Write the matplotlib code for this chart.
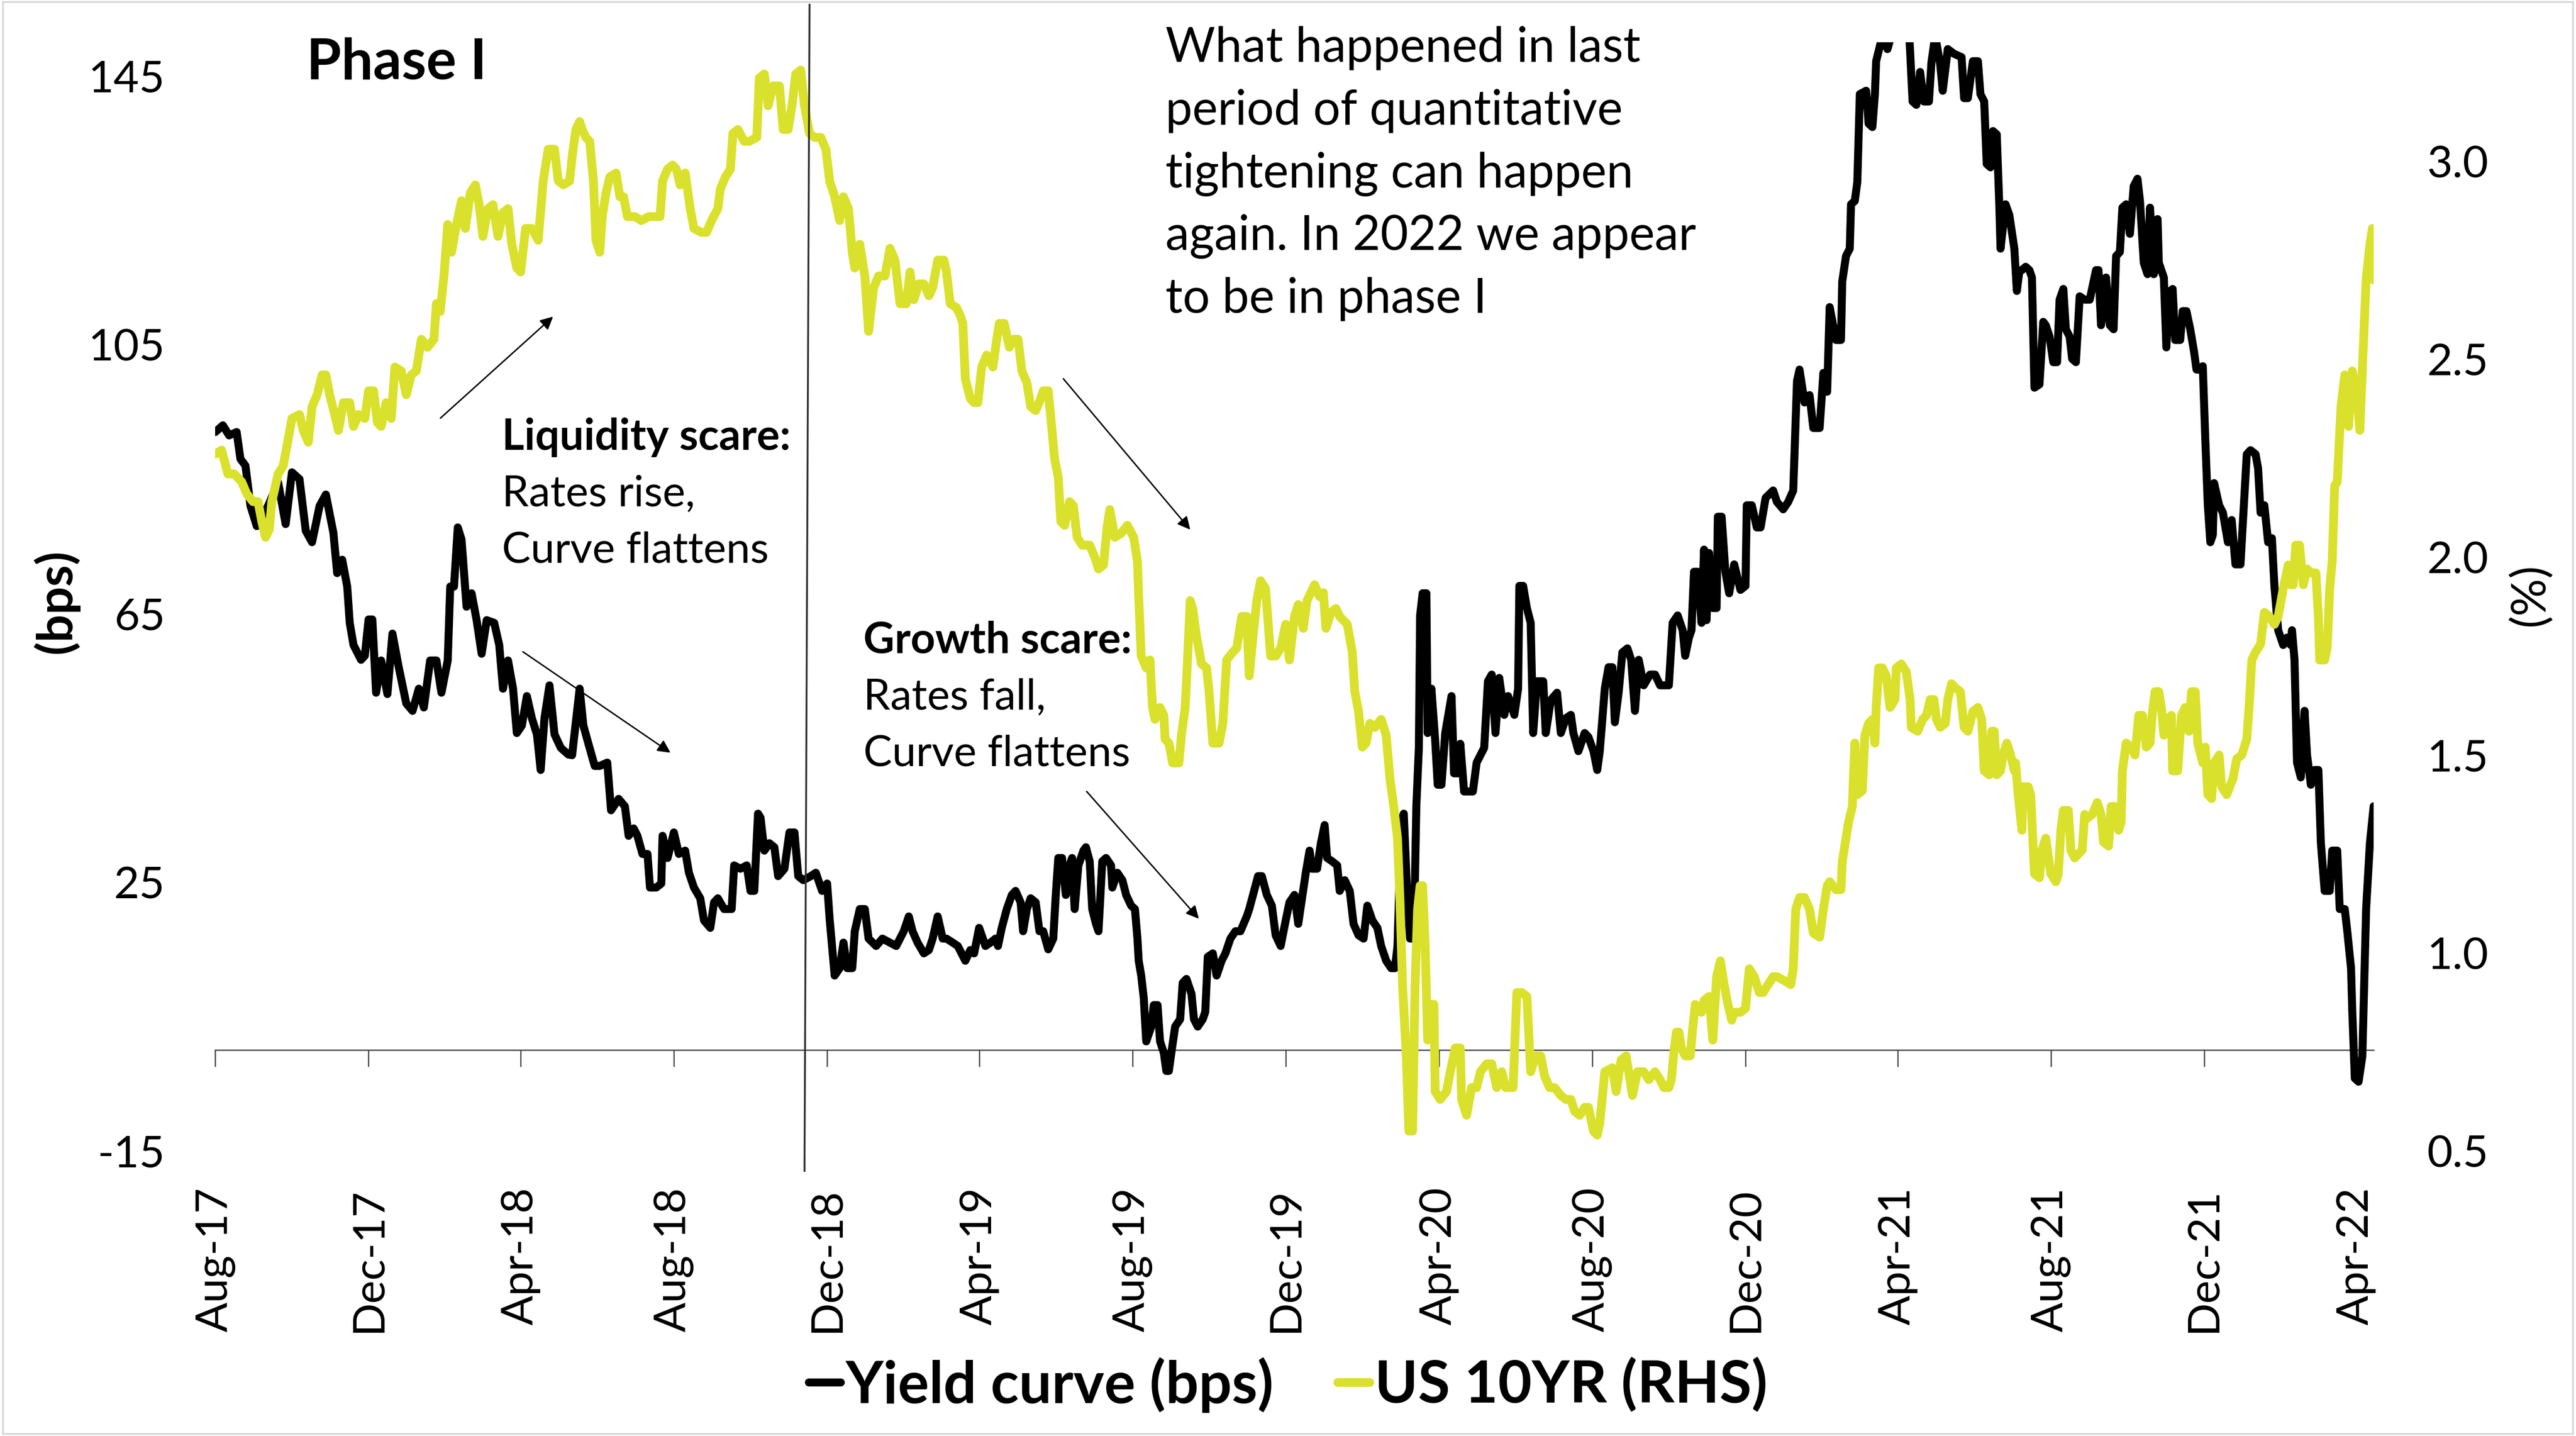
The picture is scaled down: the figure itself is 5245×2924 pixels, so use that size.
import numpy as np
import pandas as pd
import matplotlib
matplotlib.use("Agg")
import matplotlib.pyplot as plt
import matplotlib.dates as mdates
import matplotlib.transforms as mtransforms
from matplotlib.ticker import FormatStrFormatter
from matplotlib.patches import Rectangle

plt.rcParams['font.family'] = ['Lato', 'DejaVu Sans']
plt.rcParams['axes.unicode_minus'] = False

# ---------------------------------------------------------------------------
# Data: (days since 1 Aug 2017, value)
# ---------------------------------------------------------------------------
START = pd.Timestamp('2017-08-01')
LAST_DAY = 1718

# US 10y-2y yield curve, bps (left axis)
curve_pts = [
    (0, 92.0), (6, 93.0), (11, 91.5), (17, 92.0), (20, 88.0), (24, 87.0), (28, 81.0), (33, 78.0),
    (42, 81.0), (50, 84.5), (56, 78.3), (61, 86.0), (67, 85.0), (72, 77.3), (77, 75.6), (83, 81.0),
    (88, 82.7), (94, 77.0), (97, 71.0), (101, 73.0), (105, 69.0), (107, 63.6), (110, 60.3), (116, 58.1),
    (119, 58.7), (122, 64.1), (125, 64.1), (128, 53.2), (132, 58.0), (137, 53.0), (141, 62.0), (146, 57.0),
    (152, 51.6), (157, 50.5), (162, 53.8), (166, 51.0), (171, 58.0), (176, 58.0), (180, 53.2), (185, 58.0),
    (187, 69.0), (190, 69.0), (193, 77.8), (196, 76.0), (200, 66.0), (204, 68.0), (208, 64.0), (212, 59.0),
    (216, 64.0), (222, 63.6), (226, 60.3), (229, 53.8), (233, 58.0), (237, 53.8), (240, 47.2), (244, 48.3),
    (248, 52.7), (252, 49.4), (256, 47.0), (259, 41.7), (262, 49.4), (266, 54.3), (270, 47.0), (275, 45.0),
    (281, 44.0),
    (284, 43.9), (290, 53.8), (293, 48.3), (297, 45.6), (302, 42.3), (306, 42.3), (312, 42.8), (315, 35.7),
    (321, 37.4), (326, 36.3), (329, 31.9), (333, 33.0), (336, 31.9), (340, 29.2), (344, 29.2), (346, 24.2),
    (351, 24.2), (355, 24.8), (356, 31.9), (360, 28.6), (365, 32.4), (369, 29.2), (374, 29.7), (377, 26.4),
    (381, 24.2), (386, 22.6), (389, 19.3), (394, 18.2), (397, 22.0), (400, 22.6), (405, 21.0), (411, 21.0),
    (413, 27.5), (418, 27.0), (423, 27.5), (426, 23.7), (429, 23.7), (432, 35.2), (434, 34.6), (437, 29.7),
    (441, 30.8), (445, 30.2), (448, 25.9), (453, 27.0), (457, 32.4), (461, 32.4), (464, 25.9), (468, 25.3),
    (474, 25.9), (478, 26.4), (483, 23.7), (487, 24.8), (489, 19.5), (493, 11.1), (497, 12.2), (500, 16.0),
    (503, 12.2), (507, 12.2), (509, 17.7), (513, 21.0), (517, 21.0), (520, 16.6), (526, 15.5), (531, 16.6),
    (537, 16.0), (542, 15.5), (548, 17.7), (552, 19.9), (555, 17.7), (559, 16.0), (564, 14.4), (568, 14.9),
    (571, 16.6), (575, 19.9), (579, 16.6), (582, 16.6), (587, 16.0), (591, 15.5), (594, 14.4), (597, 13.3),
    (601, 14.9), (604, 14.4), (608, 18.2), (613, 15.5), (617, 16.0), (621, 16.6), (623, 15.5), (626, 18.2),
    (630, 21.0), (634, 23.1), (637, 23.7), (641, 22.0), (643, 17.7), (646, 21.0), (649, 22.6), (653, 22.0),
    (656, 17.7), (659, 17.7), (663, 15.0), (667, 16.6), (669, 23.1), (671, 28.6), (674, 28.6), (677, 23.1),
    (680, 27.5), (682, 28.6), (684, 21.0), (687, 27.5), (691, 29.7), (693, 30.2), (696, 28.1), (698, 21.0),
    (701, 18.8), (703, 17.7), (706, 28.1), (709, 28.6), (713, 27.5), (714, 24.2), (718, 26.4), (722, 25.3),
    (725, 23.1), (729, 21.5), (732, 21.0), (734, 16.6), (735, 13.3), (737, 11.1), (739, 7.8), (741, 1.3),
    (745, 3.5), (747, 6.7), (750, 6.7), (752, 1.3), (755, -0.4), (757, -3.1), (759, -3.1), (761, -0.4),
    (764, 3.5), (768, 4.6), (770, 10.0), (773, 10.6), (777, 8.4), (779, 4.6), (782, 3.5), (786, 4.6),
    (788, 5.7), (790, 13.9), (794, 14.4), (797, 11.1), (801, 13.3), (804, 14.4), (808, 16.6), (812, 17.7),
    (816, 17.7), (821, 19.9), (823, 21.0), (826, 23.1), (830, 25.9), (833, 25.9), (837, 23.1), (841, 21.5),
    (844, 17.1), (848, 15.5), (852, 19.3), (855, 22.0), (859, 23.1),
    (862, 18.8), (865, 22.6), (868, 26.4), (871, 29.7), (873, 27.0), (877, 27.0), (880, 30.8), (883, 33.5),
    (885, 28.6), (889, 28.1), (893, 27.5), (895, 23.7), (899, 25.3), (903, 23.7), (906, 18.8), (910, 17.1),
    (914, 16.6), (917, 21.5), (921, 19.3), (925, 18.2), (928, 15.5), (932, 13.3), (936, 12.2), (939, 12.2),
    (941, 15.5), (944, 34.1), (946, 35.2), (949, 22.0), (951, 16.6), (954, 16.6), (956, 36.3), (958, 45.0),
    (959, 64.7), (961, 68.0), (964, 68.0), (965, 47.2), (968, 53.8), (971, 46.1), (973, 39.5), (976, 39.5),
    (979, 47.2), (982, 50.5), (984, 52.7), (986, 41.2), (989, 41.2), (991, 45.6), (994, 38.5), (998, 38.5),
    (1001, 38.5), (1004, 42.8), (1007, 43.9), (1010, 45.0), (1013, 54.9), (1016, 55.9), (1019, 47.2),
    (1022, 55.4), (1026, 49.9), (1029, 52.7), (1034, 49.9), (1037, 53.8), (1038, 69.1), (1041, 69.1),
    (1044, 65.8), (1047, 63.6), (1049, 47.2), (1052, 54.9), (1057, 54.9), (1059, 47.2), (1063, 52.1),
    (1068, 53.2), (1071, 47.2), (1075, 49.4), (1079, 49.9), (1081, 47.2), (1085, 44.5), (1090, 47.2),
    (1093, 46.6), (1097, 44.5), (1100, 41.7), (1102, 44.5), (1106, 53.8), (1109, 57.0), (1112, 57.0),
    (1114, 48.8), (1117, 53.2), (1120, 59.2), (1124, 59.8), (1127, 58.1), (1130, 50.5), (1133, 58.1),
    (1137, 54.3), (1142, 55.9), (1146, 55.9),
    (1150, 54.3), (1154, 54.3), (1157, 54.3), (1160, 63.6), (1164, 64.7), (1168, 62.5), (1170, 58.7),
    (1173, 61.4), (1175, 62.5), (1177, 71.2), (1180, 71.2), (1183, 63.6), (1185, 74.5), (1187, 64.0),
    (1189, 74.0), (1192, 65.8), (1195, 65.8), (1196, 79.4), (1199, 79.4), (1202, 71.2), (1205, 68.0),
    (1209, 72.3), (1214, 68.5), (1218, 69.1), (1219, 81.1), (1223, 81.1), (1227, 77.8), (1230, 77.8),
    (1234, 82.2), (1240, 83.3), (1243, 81.6), (1248, 80.5), (1252, 81.6), (1256, 83.3), (1259, 99.6),
    (1261, 101.3), (1265, 96.4), (1269, 97.5), (1272, 92.6), (1277, 92.6), (1280, 100.8), (1283, 98.0),
    (1285, 110.6), (1290, 105.7), (1294, 105.7), (1295, 114.4), (1298, 118.2), (1301, 119.3), (1302, 125.9),
    (1305, 126.4), (1307, 129.2), (1309, 142.3), (1314, 142.8), (1316, 137.9), (1319, 137.4), (1321, 142.3),
    (1322, 147.2), (1327, 151.0), (1331, 149.0), (1337, 153.0), (1342, 155.0), (1348, 152.0), (1349, 148.8),
    (1351, 141.2), (1354, 140.7), (1357, 145.6), (1360, 141.2), (1364, 141.2), (1366, 147.0), (1369, 151.0),
    (1373, 146.7), (1375, 142.8), (1379, 149.0), (1384, 148.3), (1390, 147.8), (1392, 141.7), (1395, 141.7),
    (1399, 147.2), (1403, 147.2), (1405, 142.3), (1408, 141.2), (1410, 131.9), (1413, 131.4), (1415, 136.8),
    (1418, 136.3), (1420, 125.9), (1421, 119.3), (1425, 125.9), (1428, 124.3), (1432, 119.3), (1434, 113.0),
    (1436, 116.0), (1438, 116.1), (1441, 116.6), (1444, 116.1), (1446, 115.0), (1448, 98.6), (1452, 99.1),
    (1455, 108.4), (1457, 107.9), (1460, 106.2), (1463, 102.4), (1466, 102.4), (1468, 111.7), (1471, 113.3),
    (1473, 107.3), (1476, 106.2), (1478, 102.9), (1481, 102.4), (1484, 112.2), (1488, 111.7), (1492, 111.7),
    (1497, 116.1), (1499, 116.1), (1501, 107.9), (1505, 115.0), (1508, 107.9), (1511, 107.3), (1513, 118.2),
    (1516, 118.8), (1518, 125.4), (1521, 125.9), (1524, 121.5), (1527, 128.6), (1530, 129.7), (1532, 126.4),
    (1535, 117.2), (1538, 115.5), (1540, 125.4), (1543, 115.5), (1546, 123.7), (1547, 117.2), (1551, 115.0),
    (1553, 104.6), (1555, 112.8), (1558, 113.3), (1560, 105.7), (1564, 105.7), (1566, 110.0), (1569, 110.0),
    (1572, 107.3), (1575, 104.0), (1577, 101.3), (1580, 101.3), (1582, 101.8), (1584, 90.9), (1586, 81.1),
    (1588, 75.6), (1590, 76.7), (1591, 84.4), (1595, 81.1), (1598, 80.0), (1602, 75.6), (1605, 78.9),
    (1608, 72.3), (1612, 72.3), (1614, 78.9), (1617, 88.7), (1620, 89.3), (1624, 88.7), (1626, 86.6),
    (1628, 80.0), (1631, 81.1), (1634, 75.6), (1637, 76.2), (1639, 69.1), (1642, 62.5), (1646, 60.3),
    (1649, 61.4), (1652, 60.3), (1653, 62.5), (1655, 58.1), (1657, 42.8), (1660, 40.6), (1663, 50.5),
    (1665, 43.9), (1668, 39.5), (1671, 41.7), (1674, 41.7), (1676, 30.8), (1679, 23.7), (1683, 23.7),
    (1685, 29.7), (1689, 29.7), (1691, 21.0), (1695, 21.0), (1697, 17.7), (1700, 12.2), (1701, 5.7),
    (1703, -4.2), (1706, -4.7), (1709, -0.9), (1712, 21.0), (1715, 30.8), (1718, 36.3),
]

# US 10-year Treasury yield, % (right axis)
tsy_pts = [
    (0, 2.26), (5, 2.27), (10, 2.21), (15, 2.21), (21, 2.19), (25, 2.16), (30, 2.14), (34, 2.14),
    (37, 2.09), (40, 2.05), (43, 2.07), (45, 2.14), (50, 2.21), (54, 2.23), (57, 2.28), (61, 2.35),
    (67, 2.36), (70, 2.32), (74, 2.29), (77, 2.38), (81, 2.41), (85, 2.46), (88, 2.46), (91, 2.41),
    (95, 2.36), (98, 2.32), (102, 2.39), (107, 2.39), (110, 2.33), (114, 2.36), (119, 2.35), (122, 2.42),
    (126, 2.42), (129, 2.34), (132, 2.33), (136, 2.39), (140, 2.35), (143, 2.48), (148, 2.47), (152, 2.41),
    (156, 2.46), (160, 2.47), (164, 2.55), (169, 2.53), (174, 2.55), (176, 2.64), (179, 2.62), (182, 2.71),
    (185, 2.84), (188, 2.77), (192, 2.84), (196, 2.90), (199, 2.83), (203, 2.92), (207, 2.94), (210, 2.89),
    (213, 2.81), (217, 2.88), (221, 2.89), (225, 2.81), (229, 2.87), (233, 2.88), (236, 2.79), (240, 2.73),
    (243, 2.72), (247, 2.83), (252, 2.83), (257, 2.80), (261, 2.95), (265, 3.03), (270, 3.03), (273, 2.95),
    (277, 2.94), (282, 2.95),
    (284, 3.01), (287, 3.08), (290, 3.10), (292, 3.08), (295, 3.06), (298, 3.05), (301, 2.95), (303, 2.80),
    (306, 2.77), (308, 2.86), (311, 2.92), (314, 2.96), (319, 2.97), (322, 2.91), (325, 2.91), (328, 2.86),
    (334, 2.86), (339, 2.85), (345, 2.86), (350, 2.86), (354, 2.86), (356, 2.95), (360, 2.98), (364, 2.99),
    (367, 2.98), (370, 2.94), (374, 2.97), (378, 2.88), (381, 2.83), (387, 2.82), (391, 2.82), (395, 2.85),
    (400, 2.88), (402, 2.93), (406, 2.96), (410, 2.98), (412, 3.07), (416, 3.08), (421, 3.05), (425, 3.05),
    (431, 3.06), (433, 3.21), (437, 3.22), (440, 3.14), (444, 3.19), (449, 3.19), (452, 3.08), (456, 3.08),
    (459, 3.14), (462, 3.22), (466, 3.23), (469, 3.14), (473, 3.07), (477, 3.06), (482, 3.06), (486, 3.03),
    (489, 2.95), (493, 2.91), (497, 2.85), (500, 2.91), (504, 2.88), (507, 2.77), (509, 2.73), (513, 2.79),
    (517, 2.71), (520, 2.57), (524, 2.68), (528, 2.71), (533, 2.71), (537, 2.78), (541, 2.75), (545, 2.64),
    (550, 2.64), (553, 2.72), (556, 2.65), (560, 2.69), (564, 2.69), (568, 2.66),
    (571, 2.68), (575, 2.75), (580, 2.75), (582, 2.72), (585, 2.64), (590, 2.63), (593, 2.61), (595, 2.59),
    (597, 2.45), (601, 2.40), (604, 2.39), (607, 2.39), (610, 2.48), (614, 2.51), (619, 2.48), (622, 2.55),
    (624, 2.59), (628, 2.59), (632, 2.53), (635, 2.55), (639, 2.55), (642, 2.47), (646, 2.44), (649, 2.38),
    (653, 2.37), (657, 2.40), (659, 2.42), (663, 2.42), (666, 2.32), (668, 2.25), (671, 2.20), (673, 2.09),
    (676, 2.08), (680, 2.14), (683, 2.13), (686, 2.05), (690, 2.03), (696, 2.03), (700, 2.00), (703, 1.97),
    (707, 1.98), (710, 2.08), (712, 2.12), (716, 2.05), (721, 2.06), (726, 2.08), (731, 2.05), (734, 1.99),
    (735, 1.90), (737, 1.75), (741, 1.72), (744, 1.74), (746, 1.62), (748, 1.59), (752, 1.62), (755, 1.60),
    (756, 1.54), (759, 1.53), (762, 1.48), (767, 1.48), (769, 1.55), (772, 1.62), (774, 1.75), (776, 1.89),
    (778, 1.87), (781, 1.80), (785, 1.73), (789, 1.72), (791, 1.66), (794, 1.53), (799, 1.53), (802, 1.58),
    (805, 1.74), (810, 1.76), (813, 1.77), (817, 1.85), (821, 1.85), (823, 1.70), (826, 1.80), (829, 1.89),
    (832, 1.94), (836, 1.92), (840, 1.75), (844, 1.75), (848, 1.77), (852, 1.83), (855, 1.74), (859, 1.85),
    (862, 1.88), (866, 1.82), (869, 1.89), (872, 1.91), (875, 1.93), (879, 1.90), (882, 1.91), (884, 1.82),
    (888, 1.86), (892, 1.87), (895, 1.85), (901, 1.83), (905, 1.76), (907, 1.66), (910, 1.61), (913, 1.52),
    (916, 1.53), (919, 1.58), (923, 1.57), (928, 1.59), (932, 1.55), (935, 1.44), (938, 1.37), (941, 1.29),
    (943, 1.13), (945, 0.92), (948, 0.74), (950, 0.55), (953, 0.55), (955, 0.92), (957, 1.11), (959, 1.17),
    (961, 1.17), (963, 1.02), (965, 0.78), (967, 0.87), (970, 0.87), (971, 0.65), (975, 0.63), (980, 0.65),
    (983, 0.70), (987, 0.76), (991, 0.76), (992, 0.63), (996, 0.59), (1000, 0.66), (1004, 0.66), (1007, 0.70),
    (1012, 0.72), (1016, 0.72), (1020, 0.66), (1024, 0.70), (1027, 0.66), (1033, 0.66), (1036, 0.90),
    (1040, 0.90), (1044, 0.89), (1047, 0.70), (1051, 0.74), (1055, 0.74), (1058, 0.69), (1062, 0.66),
    (1066, 0.66), (1071, 0.64), (1075, 0.63), (1079, 0.63), (1082, 0.60), (1086, 0.59), (1090, 0.61),
    (1093, 0.61), (1097, 0.55), (1100, 0.54), (1102, 0.57), (1106, 0.70), (1112, 0.71), (1115, 0.65),
    (1119, 0.73), (1123, 0.74), (1128, 0.64), (1132, 0.70), (1137, 0.70), (1141, 0.68), (1146, 0.70),
    (1150, 0.68), (1153, 0.66), (1157, 0.66), (1159, 0.68), (1161, 0.75), (1163, 0.80), (1165, 0.80),
    (1167, 0.76), (1170, 0.74), (1174, 0.74), (1176, 0.81), (1178, 0.87), (1183, 0.85), (1185, 0.88),
    (1189, 0.89), (1192, 0.78), (1195, 0.94), (1198, 0.98), (1201, 0.92), (1204, 0.87), (1207, 0.83),
    (1209, 0.85), (1214, 0.85), (1218, 0.86), (1221, 0.96), (1225, 0.94), (1229, 0.90), (1232, 0.90),
    (1236, 0.92), (1240, 0.94), (1243, 0.94), (1249, 0.93), (1254, 0.92), (1256, 0.96), (1258, 1.11),
    (1261, 1.14), (1265, 1.14), (1269, 1.11), (1272, 1.05), (1277, 1.04), (1280, 1.11), (1283, 1.17),
    (1285, 1.18), (1290, 1.16), (1294, 1.16), (1295, 1.23), (1298, 1.29), (1300, 1.33), (1303, 1.37),
    (1305, 1.53), (1307, 1.40), (1311, 1.41), (1313, 1.55), (1316, 1.58), (1319, 1.59), (1321, 1.53),
    (1322, 1.62), (1324, 1.72), (1327, 1.72), (1330, 1.70), (1333, 1.62), (1337, 1.64), (1338, 1.72),
    (1342, 1.73), (1346, 1.71), (1349, 1.64), (1350, 1.57), (1355, 1.56), (1359, 1.59), (1362, 1.60),
    (1365, 1.64), (1368, 1.64), (1370, 1.59), (1373, 1.57), (1377, 1.58), (1379, 1.64), (1382, 1.68),
    (1385, 1.67), (1389, 1.66), (1392, 1.57), (1395, 1.56), (1399, 1.61), (1403, 1.62), (1406, 1.59),
    (1408, 1.46), (1412, 1.45), (1414, 1.56), (1416, 1.56), (1418, 1.45), (1421, 1.46), (1423, 1.50),
    (1426, 1.53), (1429, 1.50), (1432, 1.46),
    (1433, 1.48), (1435, 1.40), (1438, 1.31), (1439, 1.42), (1443, 1.42), (1445, 1.40), (1448, 1.20),
    (1452, 1.19), (1454, 1.26), (1457, 1.29), (1461, 1.20), (1465, 1.18), (1467, 1.20), (1469, 1.31),
    (1471, 1.36), (1475, 1.36), (1477, 1.26), (1480, 1.24), (1483, 1.25), (1486, 1.26), (1488, 1.35),
    (1490, 1.34), (1494, 1.35), (1498, 1.38), (1501, 1.35), (1503, 1.28), (1507, 1.27), (1509, 1.37),
    (1512, 1.37), (1515, 1.31), (1517, 1.33), (1518, 1.46), (1521, 1.53), (1525, 1.52), (1528, 1.50),
    (1531, 1.60), (1534, 1.60), (1537, 1.52), (1540, 1.53), (1542, 1.61), (1544, 1.66), (1547, 1.66),
    (1549, 1.62), (1551, 1.55), (1554, 1.59), (1557, 1.60), (1558, 1.46), (1562, 1.46), (1565, 1.60),
    (1568, 1.62), (1571, 1.56), (1573, 1.66), (1576, 1.66), (1578, 1.53), (1582, 1.48), (1584, 1.52),
    (1586, 1.40), (1589, 1.39), (1591, 1.48), (1595, 1.50), (1597, 1.42), (1601, 1.40), (1606, 1.44),
    (1609, 1.49), (1613, 1.50), (1617, 1.54), (1619, 1.63), (1621, 1.74), (1624, 1.76), (1628, 1.78),
    (1631, 1.86), (1635, 1.85), (1639, 1.83), (1642, 1.85), (1646, 1.92), (1650, 1.98), (1652, 1.93),
    (1654, 1.93), (1656, 2.03), (1659, 2.03), (1662, 1.93), (1665, 1.97), (1668, 1.96), (1672, 1.96),
    (1674, 1.85), (1675, 1.74), (1679, 1.74), (1681, 1.77), (1683, 1.92), (1685, 1.99), (1687, 2.18),
    (1689, 2.19), (1692, 2.38), (1695, 2.46), (1698, 2.33), (1701, 2.47), (1705, 2.40), (1707, 2.32),
    (1710, 2.55), (1712, 2.70), (1715, 2.79), (1717, 2.83), (1718, 2.70),
]

curve_label = 'Yield curve (bps)'
tsy_label = 'US 10YR (RHS)'
left_ticks = [-15, 25, 65, 105, 145]
right_ticks = [0.5, 1.0, 1.5, 2.0, 2.5, 3.0]
divider_days = (469, 473)      # hand-drawn divider near mid-Nov 2018 (bottom, top)

text_block = ['What happened in last', 'period of quantitative',
              'tightening can happen', 'again. In 2022 we appear',
              'to be in phase I']
liquidity_lines = ['Liquidity scare:', 'Rates rise,', 'Curve flattens']
growth_lines = ['Growth scare:', 'Rates fall,', 'Curve flattens']


def to_series(pts):
    days, vals = zip(*pts)
    dates = START + pd.to_timedelta(np.asarray(days), unit='D')
    return dates, np.asarray(vals, dtype=float)


curve_x, curve_y = to_series(curve_pts)
tsy_x, tsy_y = to_series(tsy_pts)

# ---------------------------------------------------------------------------
# Figure
# ---------------------------------------------------------------------------
W, H, DPI = 5245, 2924, 300
fig = plt.figure(figsize=(W / DPI, H / DPI), dpi=DPI)
fig.patch.set_facecolor('white')

left, right, bottom, top = 0.08358, 0.92145, 0.19853, 0.97049
ax = fig.add_axes([left, bottom, right - left, top - bottom])
ax2 = ax.twinx()

BLACK = '#000000'
YELLOW = '#D9E12D'
AXIS_GREY = '#404040'
TICK_SIZE = 21.5

line_curve, = ax.plot(curve_x, curve_y, color=BLACK, lw=3.9,
                      solid_joinstyle='round', solid_capstyle='round',
                      label=curve_label)
line_tsy, = ax2.plot(tsy_x, tsy_y, color=YELLOW, lw=4.3,
                     solid_joinstyle='round', solid_capstyle='round',
                     label=tsy_label)

ax.set_ylim(-15, 150)
ax2.set_ylim(0.5, 3.3)
ax.set_yticks(left_ticks)
ax2.set_yticks(right_ticks)
ax2.yaxis.set_major_formatter(FormatStrFormatter('%.1f'))

ax.set_xlim(START, START + pd.Timedelta(days=LAST_DAY))
month_loc = mdates.MonthLocator(bymonth=[4, 8, 12], bymonthday=1)
ax.xaxis.set_major_locator(month_loc)
ax.xaxis.set_major_formatter(mdates.DateFormatter('%b-%y'))

for a in (ax, ax2):
    for s in a.spines.values():
        s.set_visible(False)
    a.patch.set_visible(False)

ax.tick_params(axis='y', length=0, pad=24.6, labelsize=TICK_SIZE)
ax2.tick_params(axis='y', length=0, pad=26, labelsize=TICK_SIZE)
ax.tick_params(axis='x', length=0, pad=17.7, labelsize=TICK_SIZE,
               labelrotation=90)

# horizontal axis line with tick marks drawn at the zero level
zero_axis = ax.secondary_xaxis(0, transform=ax.transData)
zero_axis.xaxis.set_major_locator(mdates.MonthLocator(bymonth=[4, 8, 12], bymonthday=1))
zero_axis.tick_params(axis='x', direction='out', length=8.2, width=0.6,
                      color=AXIS_GREY, labelbottom=False)
zero_axis.spines['bottom'].set_color(AXIS_GREY)
zero_axis.spines['bottom'].set_linewidth(0.6)

# divider between the two phases
blend = mtransforms.blended_transform_factory(ax2.transData, ax2.transAxes)
ax2.plot([START + pd.Timedelta(days=divider_days[0]),
          START + pd.Timedelta(days=divider_days[1])],
         [-0.018, 1.034], transform=blend, color='#303030', lw=0.9,
         clip_on=False, zorder=5)

# trend arrows
arrow_kw = dict(arrowstyle='-|>', color='black', lw=0.7, mutation_scale=13,
                shrinkA=0, shrinkB=0)
arrows = [((0.1043, 0.661), (0.1565, 0.7526)),
          ((0.1425, 0.4503), (0.2109, 0.3592)),
          ((0.3929, 0.6966), (0.4517, 0.5604)),
          ((0.4037, 0.3243), (0.4557, 0.2094))]
for tail, head in arrows:
    ax2.annotate('', xy=head, xytext=tail, xycoords='axes fraction',
                 textcoords='axes fraction', arrowprops=arrow_kw, zorder=6)

# text annotations
fig.text(0.1189, 0.94494, 'Phase I', fontsize=27.5, fontweight='bold',
         ha='left', va='baseline')

for i, line in enumerate(text_block):
    fig.text(0.45243, 0.95687 - i * 0.04370, line, fontsize=23.5,
             ha='left', va='baseline')

for i, line in enumerate(liquidity_lines):
    fig.text(0.19485, 0.68673 - i * 0.03916, line, fontsize=21,
             fontweight='bold' if i == 0 else 'normal', ha='left', va='baseline')

for i, line in enumerate(growth_lines):
    fig.text(0.33518, 0.54525 - i * 0.0393, line, fontsize=21,
             fontweight='bold' if i == 0 else 'normal', ha='left', va='baseline')

# axis titles
fig.text(0.0217, 0.5812, '(bps)', rotation=90, fontsize=24, fontweight='bold',
         ha='center', va='center')
fig.text(0.9821, 0.5858, '(%)', rotation=90, fontsize=23,
         ha='center', va='center')

# legend
fig.legend(handles=[line_curve, line_tsy], loc='center',
           bbox_to_anchor=(0.5, 0.0356), ncol=2, frameon=False,
           prop=dict(weight='bold', size=28.5), handlelength=0.55,
           handletextpad=0.08, columnspacing=1.1)

# chart-area border
fig.patches.append(Rectangle((0.00114, 0.00137), 0.99771, 0.99726,
                             transform=fig.transFigure, fill=False,
                             edgecolor='#D9D9D9', lw=0.9))

fig.savefig('out.png', dpi=DPI, facecolor='white')
